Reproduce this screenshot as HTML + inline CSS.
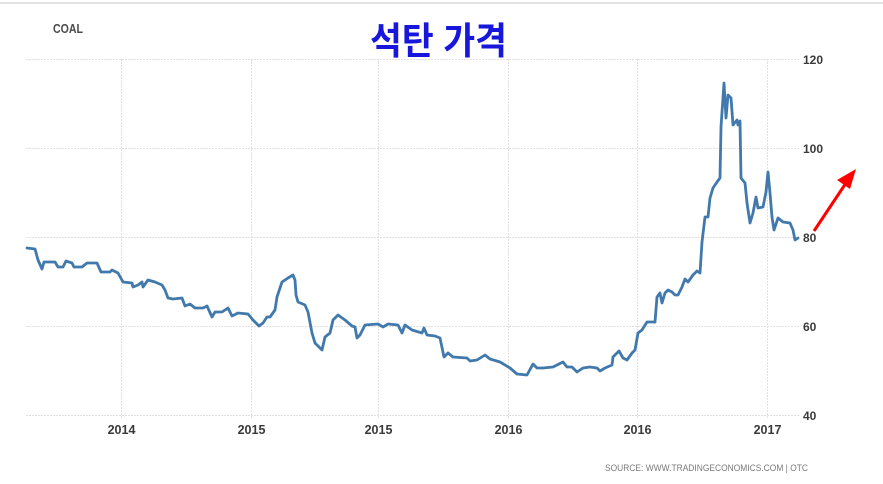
<!DOCTYPE html>
<html><head><meta charset="utf-8"><style>
html,body{margin:0;padding:0;background:#fff;}
svg{display:block;}
</style></head><body>
<svg width="883" height="484" viewBox="0 0 883 484" xmlns="http://www.w3.org/2000/svg">
<rect x="0" y="0" width="883" height="484" fill="#fff"/>
<rect x="0" y="2" width="883" height="2" fill="#e3e3e3"/>
<g stroke="#e0e0e0" stroke-width="1" stroke-dasharray="2,1" fill="none">
<line x1="26" y1="59.5" x2="800" y2="59.5"/>
<line x1="26" y1="148.5" x2="800" y2="148.5"/>
<line x1="26" y1="237.5" x2="800" y2="237.5"/>
<line x1="26" y1="326.5" x2="800" y2="326.5"/>
<line x1="26" y1="415.5" x2="800" y2="415.5"/>
<line x1="121.5" y1="59" x2="121.5" y2="419"/>
<line x1="251.5" y1="59" x2="251.5" y2="419"/>
<line x1="378.5" y1="59" x2="378.5" y2="419"/>
<line x1="508.5" y1="59" x2="508.5" y2="419"/>
<line x1="637.5" y1="59" x2="637.5" y2="419"/>
<line x1="767.5" y1="59" x2="767.5" y2="419"/>
</g>
<polyline fill="none" stroke="#4179ad" stroke-width="2.8" stroke-linejoin="round" stroke-linecap="round" points="27,248 35,249 38,260 42,269 44,262 55,262 58,267 63,267 66,261 72,263 74,267 82,267 87,263 97,263 101,272 110,272 112,270 118,273 123,282 132,283 133,287 138,285 142,282 143,287 148,280 155,282 162,285 165,290 168,298 173,299 182,298 185,306 190,304 195,308 203,308 207,306 212,317 215,312 222,312 228,308 232,316 238,313 248,314 253,320 259,326 263,323 267,317 270,317 275,310 277,297 282,282 288,278 293,275 295,280 296,295 298,302 305,305 308,312 312,333 315,343 322,350 325,337 330,333 333,320 338,315 345,320 352,326 355,327 357,338 360,335 365,325 378,324 383,327 388,324 398,325 402,333 405,325 412,330 422,333 424,328 427,335 435,336 440,338 444,357 448,353 453,357 467,358 470,361 477,360 485,355 490,359 500,362 510,368 517,374 527,375 533,364 537,368 543,368 553,367 563,362 567,367 572,367 577,372 583,368 590,367 597,368 600,371 605,368 612,365 613,357 619,351 623,358 627,360 632,353 635,350 638,333 642,330 647,322 655,322 657,297 660,293 662,303 665,293 668,290 672,292 675,295 678,295 682,287 685,279 688,282 693,275 697,271 700,273 702,242 705,217 708,217 710,198 713,188 717,182 720,178 721,127 724,83 726,118 728,95 731,98 733,125 737,120 738,125 740,121 741,178 745,183 747,203 750,223 753,213 756,197 758,208 763,207 766,192 768,172 770,193 772,217 774,230 778,218 783,222 790,223 793,230 795,240 798,238"/>
<g font-family="Liberation Sans, sans-serif" font-weight="bold" font-size="12" fill="#3a3a3a">
<text x="803" y="64">120</text>
<text x="803" y="153">100</text>
<text x="803" y="242">80</text>
<text x="803" y="331">60</text>
<text x="803" y="420">40</text>
</g>
<g font-family="Liberation Sans, sans-serif" font-weight="bold" font-size="12.5" fill="#3a3a3a" text-anchor="middle">
<text x="121.5" y="434">2014</text>
<text x="251.5" y="434">2015</text>
<text x="378.5" y="434">2015</text>
<text x="508.5" y="434">2016</text>
<text x="637.5" y="434">2016</text>
<text x="767.5" y="434">2017</text>
</g>
<text x="53" y="33" font-family="Liberation Sans, sans-serif" font-weight="bold" font-size="13" fill="#4a4a4a" textLength="30" lengthAdjust="spacingAndGlyphs">COAL</text>
<text x="605" y="471" font-family="Liberation Sans, sans-serif" font-size="9" fill="#7a7a7a" textLength="203" lengthAdjust="spacingAndGlyphs">SOURCE: WWW.TRADINGECONOMICS.COM | OTC</text>
<g transform="translate(370,54) scale(1,1.18)">
<text x="0" y="0" font-family="Liberation Sans, 'Noto Sans CJK KR', 'NanumGothic', sans-serif" font-weight="bold" font-size="32" fill="#1616dc" textLength="137" lengthAdjust="spacingAndGlyphs">석탄 가격</text>
</g>
<line x1="814" y1="231" x2="846" y2="183" stroke="#f00" stroke-width="3"/>
<polygon points="856,169 837,180 850,189" fill="#f00"/>
</svg>
</body></html>
